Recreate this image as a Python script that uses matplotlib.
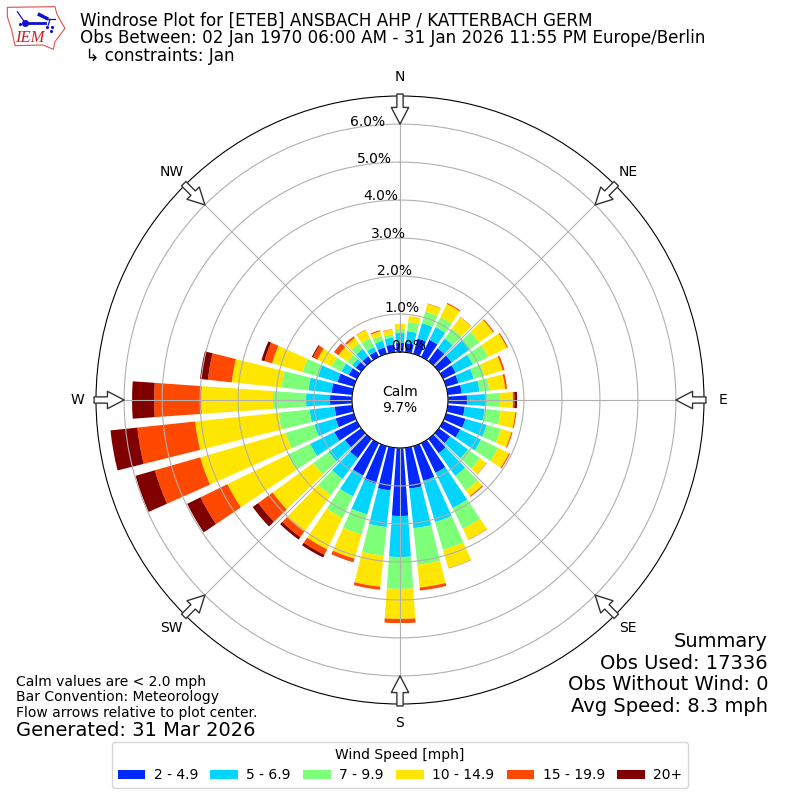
import numpy as np
import matplotlib
matplotlib.use('Agg')
import matplotlib.pyplot as plt
from matplotlib.patches import Polygon

# percent of obs per 10 degree direction, starting at N going clockwise
directions = np.arange(0, 360, 10)
speed_labels = ['2 - 4.9', '5 - 6.9', '7 - 9.9', '10 - 14.9', '15 - 19.9', '20+']
colors = ['#0028ff', '#00d4ff', '#7dff7a', '#ffe600', '#ff4800', '#800000']

blue = [.24, .24, .42, .50, .42, .42, .37, .34, .37, .50, .45, .53, .50, .37, .47, .87, .95, 1.08,
        1.79, 1.13, 1.03, .95, .63, .53, .66, .50, .47, .58, .55, .45, .24, .18, .16, .16, .18, .21]
cyan = [.26, .32, .42, .37, .32, .58, .50, .42, .47, .50, .53, .58, .61, .58, .74, 1.03, 1.13, 1.05,
        1.08, .97, .84, .61, .68, .53, .71, .58, .66, .63, .61, .53, .21, .11, .24, .13, .18, .18]
green = [.11, .24, .32, .29, .32, .32, .45, .29, .26, .37, .42, .39, .50, .39, .47, .61, .76, .97,
         .84, .76, .55, .63, .53, .50, .66, .79, .82, .87, .71, .42, .29, .16, .18, .26, .13, .08]
yellow = [.13, .16, .21, .39, .37, .45, .55, .50, .42, .34, .39, .29, .32, .21, .18, .32, .50, .60,
          .79, .82, .66, .92, 1.18, 1.32, 1.76, 2.34, 2.21, 1.89, 1.32, .84, .42, .29, .18, .24, .13, .13]
orange = [0, 0, .01, .03, .01, .03, .03, .05, .05, .04, .03, .03, .03, .01, .03, .01, .01, .08,
          .11, .08, .09, .16, .18, .47, .79, 1.24, 1.53, 1.24, .63, .21, .13, .13, .05, .01, .03, .01]
darkred = [0, 0, 0, 0, 0, 0, 0, 0, 0, .07, 0, 0, 0, 0, 0, 0, 0, 0,
           0, 0, .01, .08, .08, .18, .39, .53, .71, .58, .21, .08, .03, .01, 0, 0, 0, 0]
bands = [blue, cyan, green, yellow, orange, darkred]

rings = [0, 1, 2, 3, 4, 5, 6]
ring_labels = ['%.1f%%' % r for r in rings]
compass = ['N', 'NE', 'E', 'SE', 'S', 'SW', 'W', 'NW']

fig = plt.figure(figsize=(8, 8), dpi=100)
ax = fig.add_axes([96 / 800, 96 / 800, 608 / 800, 608 / 800], projection='polar')
ax.set_theta_zero_location('N')
ax.set_theta_direction(-1)

theta = np.deg2rad(directions)
bottom = np.zeros(len(directions))
handles = []
for vals, color, label in zip(bands, colors, speed_labels):
    bars = ax.bar(theta, vals, width=np.deg2rad(8), bottom=bottom, color=color, label=label)
    handles.append(bars)
    bottom = bottom + np.array(vals)

ax.set_rorigin(-1.263)
ax.set_ylim(0, 6.74)
ax.set_xticks(np.deg2rad(np.arange(0, 360, 45)))
ax.set_xticklabels(compass)
ax.set_yticks(rings)
ax.set_yticklabels(ring_labels)
ax.set_rlabel_position(349.5)
ax.tick_params(axis='x', pad=3)
ax.grid(True)

# flow arrows on the rim
for deg in np.arange(0, 360, 45):
    ax.annotate('', xy=(np.deg2rad(deg), 6.0), xytext=(np.deg2rad(deg), 6.79),
                arrowprops=dict(facecolor='white', edgecolor='#333333', width=4.5, headwidth=12.5,
                                headlength=12, linewidth=1, shrink=0), annotation_clip=False, zorder=5)

fig.text(0.5, 0.4995, 'Calm\n9.7%', ha='center', va='center', fontsize=10)

fig.text(80 / 800, 1 - 26 / 800, 'Windrose Plot for [ETEB] ANSBACH AHP / KATTERBACH GERM',
         fontsize=12.02, va='baseline', ha='left')
fig.text(80 / 800, 1 - 43 / 800,
         'Obs Between: 02 Jan 1970 06:00 AM - 31 Jan 2026 11:55 PM Europe/Berlin',
         fontsize=12.02, va='baseline', ha='left')
fig.text(80 / 800, 1 - 61 / 800, ' \u21b3 constraints: Jan', fontsize=12.02, va='baseline', ha='left')

fig.text(768 / 800, 1 - 716 / 800, 'Summary\nObs Used: 17336\nObs Without Wind: 0\nAvg Speed: 8.3 mph',
         fontsize=14, ha='right', va='bottom', multialignment='right', linespacing=1.18)

fig.text(16 / 800, 1 - 720 / 800,
         'Calm values are < 2.0 mph\nBar Convention: Meteorology\nFlow arrows relative to plot center.',
         fontsize=10, ha='left', va='bottom', linespacing=1.15)
fig.text(16 / 800, 1 - 740 / 800, 'Generated: 31 Mar 2026', fontsize=14, ha='left', va='bottom')

fig.legend(handles, speed_labels, title='Wind Speed [mph]', ncol=6, fontsize=10, title_fontsize=10,
           loc='lower center', bbox_to_anchor=(0.5, 1 - 788 / 800), columnspacing=0.88, handletextpad=0.6,
           borderaxespad=0)

# IEM logo, coords are pixels x3
logo = fig.add_axes([0, 1 - 60 / 800, 80 / 800, 60 / 800])
logo.set_xlim(0, 240)
logo.set_ylim(180, 0)
logo.axis('off')
iowa = [(22, 22), (165, 20), (170, 40), (180, 60), (195, 85), (180, 105), (165, 125), (160, 148),
        (130, 135), (45, 137), (35, 90), (22, 50)]
logo.add_patch(Polygon(iowa, closed=True, fill=False, edgecolor='#e05050', linewidth=0.8))
logo.plot([75, 135], [70, 70], color='#1010d0', lw=2)
logo.plot([75], [70], 'o', color='#1010d0', ms=4)
logo.plot([52, 75], [35, 68], color='#1010d0', lw=0.9)
logo.plot([118, 140], [44, 55], color='#1010d0', lw=2.5)
logo.plot([140, 165], [56, 56], color='#1010d0', lw=0.9)
logo.plot([150, 145], [58, 75], color='#1010d0', lw=0.9)
logo.plot([60, 140, 155, 152], [72, 82, 82, 92], '.', color='#1010d0', ms=2.5)
logo.text(90, 115, 'IEM', color='#d02020', fontsize=12, family='Liberation Serif', style='italic',
          ha='center', va='center')

fig.savefig('out.png', dpi=100)
